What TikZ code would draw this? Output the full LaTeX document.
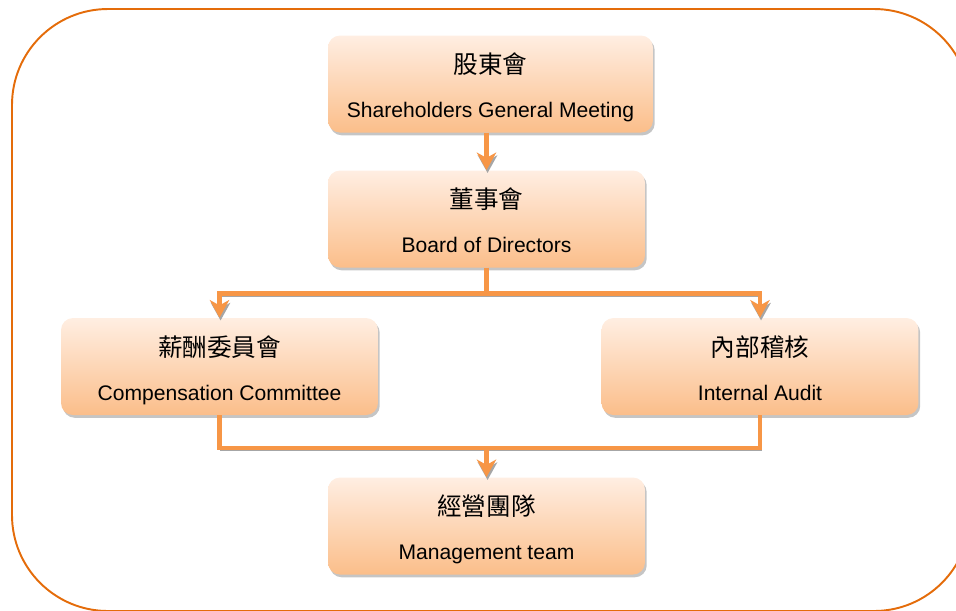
\documentclass[tikz,border=0pt]{standalone}
\usepackage{fontspec}
\setmainfont{Liberation Sans}
\newfontfamily\cjk{Noto Sans CJK TC}
\usetikzlibrary{arrows.meta,shadows}
\definecolor{frameorange}{HTML}{E46C0A}
\definecolor{linkorange}{HTML}{F79646}
\definecolor{boxtop}{HTML}{FFEEE2}
\definecolor{boxbottom}{HTML}{FBBE8A}
\newcommand{\unittext}[2]{{\cjk\fontsize{14}{16}\selectfont\rule{0pt}{16.5pt}#1}\\[13pt]{\fontsize{12}{14}\selectfont\rule[-3pt]{0pt}{3pt}#2}}

\begin{document}
\begin{tikzpicture}[x=0.02cm, y=-0.02cm]
    \tikzstyle{unit} = [rectangle, rounded corners=6.8pt, top color=boxtop, bottom color=boxbottom, minimum width=6.34cm, minimum height=1.94cm, align=center, drop shadow={shadow xshift=1pt, shadow yshift=-1.6pt, fill=black!45}]
    \tikzstyle{line} = [draw=linkorange, line width=2.8pt, preaction={draw=black!35, transform canvas={xshift=0.6pt, yshift=-1.6pt}}]
    \tikzstyle{link} = [line, -{Stealth[length=10pt, width=11pt, inset=3pt]}]

    \useasboundingbox (0,0) rectangle (956,610);
    \clip (0,0) rectangle (956,610);
    \draw[frameorange, line width=1.1pt, rounded corners=1.92cm] (12,9) rectangle (970,611);

    \node[unit, minimum width=6.5cm] (sgm) at (490.5,84) {\unittext{股東會}{Shareholders General Meeting}};
    \node[unit] (bod) at (486.5,219) {\unittext{董事會}{Board of Directors}};
    \node[unit] (comp) at (219.5,366.5) {\unittext{薪酬委員會}{Compensation Committee}};
    \node[unit] (ia) at (760,366.5) {\unittext{內部稽核}{Internal Audit}};
    \node[unit] (mt) at (486.5,526) {\unittext{經營團隊}{Management team}};
    \coordinate (merge) at (486.5,448);

    \draw[link] (bod.north |- sgm.south) -- (bod.north);
    \draw[link] (bod.south) -- ++(0,26) -| (comp.north);
    \draw[link] (bod.south) -- ++(0,26) -| (ia.north);
    \draw[line] (comp.south) |- (merge);
    \draw[line] (ia.south) |- (merge);
    \draw[link] (merge) -- (mt.north);
\end{tikzpicture}
\end{document}
